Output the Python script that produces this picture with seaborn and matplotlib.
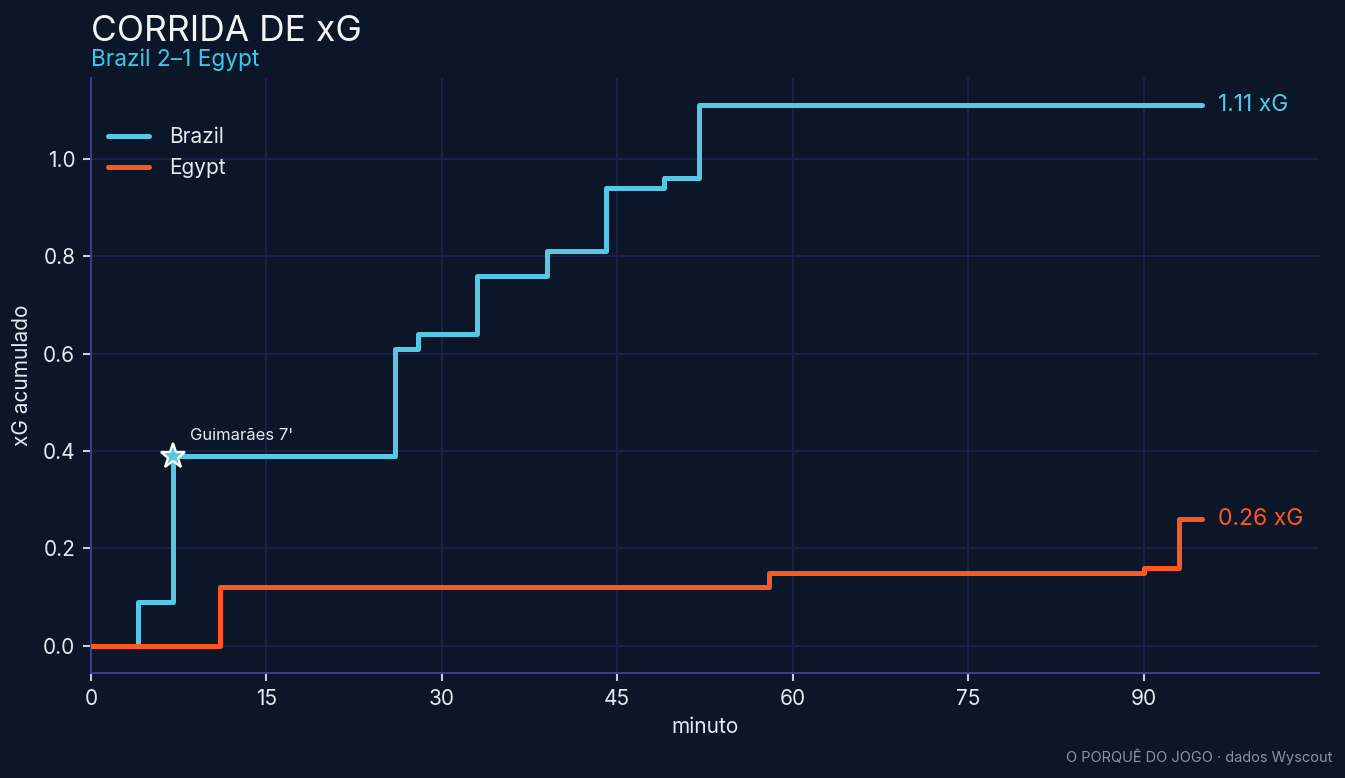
import matplotlib
matplotlib.use("Agg")
import matplotlib.pyplot as plt
import seaborn as sns
import pandas as pd

# ---- data ----
teams = ["Brazil", "Egypt"]
brazil_min = [0, 4, 7, 26, 28, 33, 39, 44, 49, 52, 95]
brazil_xg = [0.0, 0.09, 0.39, 0.61, 0.64, 0.76, 0.81, 0.94, 0.96, 1.11, 1.11]
egypt_min = [0, 11, 58, 90, 93, 95]
egypt_xg = [0.0, 0.12, 0.15, 0.16, 0.26, 0.26]
goal_min = 7
goal_xg = 0.39
goal_label = "Guimarães 7'"
x_ticks = [0, 15, 30, 45, 60, 75, 90]
y_ticks = [0.0, 0.2, 0.4, 0.6, 0.8, 1.0]

BG = "#0b1628"
C_BRA = "#56c8e6"
C_EGY = "#ff5722"
GRID = "#1a2249"
SPINE = "#3a3d8f"
TXT = "#e6e9f0"

df = pd.concat([
    pd.DataFrame({"minuto": brazil_min, "xg": brazil_xg, "team": "Brazil"}),
    pd.DataFrame({"minuto": egypt_min, "xg": egypt_xg, "team": "Egypt"}),
])

sns.set_theme(style="dark")
plt.rcParams["font.family"] = ["Inter", "DejaVu Sans"]

fig = plt.figure(figsize=(1345 / 150, 778 / 150), dpi=150, facecolor=BG)
ax = fig.add_axes([91 / 1345, 1 - 673 / 778, (1319 - 91) / 1345, (673 - 78) / 778])
ax.set_facecolor(BG)

sns.lineplot(data=df, x="minuto", y="xg", hue="team", hue_order=teams,
             palette={"Brazil": C_BRA, "Egypt": C_EGY}, drawstyle="steps-post",
             linewidth=2.4, ax=ax, sort=False, estimator=None, zorder=3)

ax.plot([goal_min], [goal_xg], marker="*", markersize=12.5, color=C_BRA,
        markeredgecolor="white", markeredgewidth=1.1, zorder=5, linestyle="none")
ax.annotate(goal_label, (goal_min, goal_xg), xytext=(8, 6), textcoords="offset points",
            ha="left", va="bottom", fontsize=8, color=TXT)

ax.annotate(f"{brazil_xg[-1]:.2f} xG", (brazil_min[-1], brazil_xg[-1]), xytext=(7.5, 0),
            textcoords="offset points", ha="left", va="center", fontsize=11, color=C_BRA)
ax.annotate(f"{egypt_xg[-1]:.2f} xG", (egypt_min[-1], egypt_xg[-1]), xytext=(7.5, 0),
            textcoords="offset points", ha="left", va="center", fontsize=11, color=C_EGY)

ax.set_xlim(0, 105)
ax.set_ylim(-0.0555, 1.1655)
ax.set_xticks(x_ticks)
ax.set_yticks(y_ticks)
ax.set_yticklabels([f"{v:.1f}" for v in y_ticks])
ax.grid(True, color=GRID, linewidth=0.9)
ax.set_axisbelow(True)
for s in ["top", "right"]:
    ax.spines[s].set_visible(False)
for s in ["left", "bottom"]:
    ax.spines[s].set_visible(True)
    ax.spines[s].set_color(SPINE)
    ax.spines[s].set_linewidth(1.0)
ax.tick_params(axis="both", colors="#c9cdd8", labelcolor=TXT, labelsize=10,
               length=4, width=1, left=True, bottom=True)
ax.set_xlabel("minuto", color=TXT, fontsize=10, labelpad=4)
ax.set_ylabel("xG acumulado", color=TXT, fontsize=10, labelpad=5)

leg = ax.legend(loc="upper left", frameon=False, fontsize=10, labelcolor=TXT,
                handlelength=2.0, borderaxespad=0.4, bbox_to_anchor=(0.0, 0.946),
                labelspacing=0.55, handletextpad=0.95)
for h in leg.get_lines():
    h.set_linewidth(2.4)

fig.text(91 / 1345, 1 - 41 / 778, "CORRIDA DE xG", fontsize=17, color="#f2f4f8",
         ha="left", va="baseline")
fig.text(91 / 1345, 1 - 66 / 778, "Brazil 2–1 Egypt", fontsize=10.9, color="#3cc8ee",
         ha="left", va="baseline")
fig.text(1332 / 1345, 1 - 762 / 778, "O PORQUÊ DO JOGO · dados Wyscout", fontsize=7,
         color="#8a93a6", ha="right", va="baseline")

fig.savefig("out.png", dpi=150, facecolor=BG)
